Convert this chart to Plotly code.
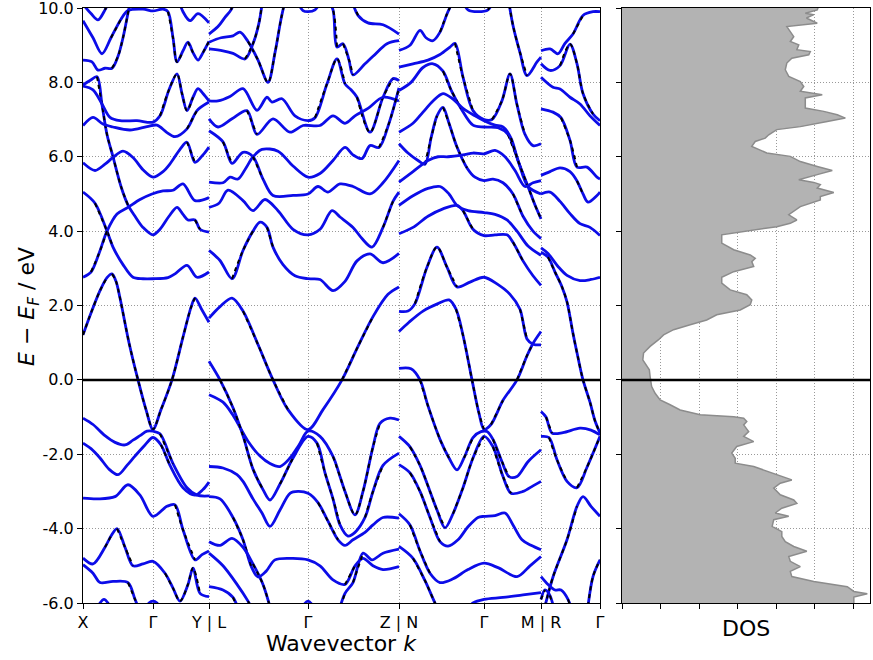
import plotly.graph_objects as go

# ---------------- axis / tick data ----------------
TICK_K = [0, 70, 126, 225, 316, 401, 458, 517]
TICK_LABELS = ["X", "Γ", "Y | L", "Γ", "Z | N", "Γ", "M | R", "Γ"]
E_TICKS = [-6, -4, -2, 0, 2, 4, 6, 8, 10]
E_TICK_TEXT = ["-6.0", "-4.0", "-2.0", "0.0", "2.0", "4.0", "6.0", "8.0", "10.0"]
DOS_TICKS = [0, 1, 2, 3, 4, 5, 6]

# ---------------- band structure (k, E) ----------------
# segment X - Gamma - Y
SEG1_BANDS = [
    [(0, 10.1), (8, 9.85), (15, 9.68), (22, 9.95), (28, 10.3)],
    [(0, 9.66), (10, 9.2), (19, 8.77), (28, 9.2), (38, 9.7), (45, 9.93), (60, 9.97), (70, 9.92), (80, 9.97),
     (85, 9.9), (90, 9.2), (94, 8.55), (100, 8.85), (105, 9.08), (110, 8.8), (115, 8.6), (120, 8.8), (126, 9.1)],
    [(95, 10.3), (100, 9.9), (107, 9.66), (115, 9.85), (126, 9.6)],
    [(0, 8.6), (9, 8.55), (15, 8.33), (22, 8.38), (29, 8.38), (35, 8.7), (40, 9.2), (46, 10.0), (50, 10.5)],
    [(0, 7.93), (7, 8.05), (14, 8.15), (19, 7.4), (24, 6.6), (30, 6.0), (38, 5.2), (45, 4.7), (52, 4.4), (60, 4.1),
     (70, 3.9), (77, 4.05), (86, 4.4), (94, 4.64), (100, 4.45), (105, 4.3), (112, 4.3), (117, 4.05), (126, 3.97)],
    [(0, 7.9), (10, 7.8), (19, 7.42), (27, 7.06), (37, 6.97), (54, 6.97), (70, 6.93), (77, 7.1), (86, 7.8),
     (94, 8.23), (99, 7.7), (104, 7.24), (110, 7.6), (115, 7.83), (120, 7.7), (126, 7.5)],
    [(0, 6.84), (10, 7.06), (20, 6.88), (30, 6.8), (47, 6.72), (64, 6.81), (74, 6.85), (84, 6.65), (92, 6.54),
     (104, 6.75), (114, 7.24), (126, 7.47)],
    [(0, 5.84), (12, 5.63), (22, 5.8), (30, 5.98), (40, 6.15), (50, 5.98), (60, 5.65), (70, 5.45), (80, 5.6),
     (87, 5.81), (97, 6.2), (104, 6.39), (112, 5.85), (120, 6.05), (126, 6.26)],
    [(0, 5.05), (12, 4.75), (24, 4.0), (30, 3.57), (40, 3.1), (50, 2.76), (60, 2.72), (70, 2.72), (85, 2.75),
     (92, 2.85), (104, 3.08), (114, 2.76), (126, 2.9)],
    [(0, 2.76), (8, 2.9), (16, 3.4), (24, 4.0), (34, 4.46), (45, 4.64), (57, 4.85), (69, 5.0), (80, 5.08),
     (90, 5.1), (100, 5.27), (112, 4.82), (126, 4.9)],
    [(0, 1.21), (8, 1.8), (17, 2.4), (24, 2.75), (29, 2.85), (33, 2.65), (37, 2.2), (46, 1.0), (55, 0.0),
     (63, -0.8), (70, -1.33), (78, -0.8), (89, 0.0), (100, 1.15), (108, 1.95), (112, 2.2), (119, 1.88), (126, 1.55)],
    [(0, -1.03), (10, -1.2), (22, -1.5), (32, -1.68), (42, -1.75), (50, -1.62), (57, -1.5), (64, -1.38),
     (70, -1.38), (77, -1.45), (90, -2.25), (104, -2.9), (114, -3.1), (126, -3.12)],
    [(0, -1.7), (8, -1.85), (17, -2.1), (26, -2.4), (35, -2.55), (44, -2.3), (52, -2.05), (62, -1.75),
     (70, -1.55), (78, -1.75), (87, -2.3), (100, -2.9), (112, -3.1), (120, -2.95), (126, -2.75)],
    [(0, -3.18), (15, -3.2), (32, -3.14), (45, -2.82), (57, -3.1), (70, -3.67), (84, -3.4), (92, -3.36),
     (100, -4.03), (112, -4.84), (119, -4.7), (126, -4.6)],
    [(0, -4.79), (10, -4.95), (22, -4.5), (28, -4.2), (34, -4.0), (42, -4.5), (50, -5.0), (60, -4.95),
     (70, -4.88), (82, -5.2), (90, -5.6), (97, -5.95), (105, -5.5), (110, -5.06), (117, -5.74), (126, -5.83)],
    [(0, -4.97), (10, -5.2), (17, -5.45), (30, -5.42), (45, -5.45), (52, -5.9), (58, -6.3)],
    [(12, -6.3), (17, -6.0), (21, -5.9), (25, -6.0), (30, -6.3)],
    [(60, -6.3), (66, -6.0), (70, -5.95), (74, -6.0), (80, -6.3)],
]

# segment L - Gamma - Z
SEG2_BANDS = [
    [(126, 9.3), (135, 9.5), (142, 9.75), (148, 9.95), (153, 10.3)],
    [(126, 9.08), (138, 9.2), (150, 9.25), (157, 9.35), (165, 9.1), (175, 8.6), (185, 8.0), (192, 8.8),
     (198, 9.7), (203, 10.3)],
    [(126, 8.9), (140, 8.85), (150, 8.78), (162, 8.63), (170, 9.04), (176, 9.6), (180, 10.3)],
    [(212, 10.3), (220, 9.93), (225, 9.9), (232, 9.95), (240, 10.3)],
    [(243, 10.3), (250, 9.95), (254, 8.95), (260, 9.04), (266, 8.6), (270, 8.2), (282, 8.5), (290, 8.7),
     (304, 9.04), (316, 9.12)],
    [(268, 10.3), (275, 9.8), (285, 9.6), (300, 9.55), (316, 9.3)],
    [(126, 7.5), (135, 7.5), (147, 7.62), (160, 7.83), (174, 7.25), (184, 7.6), (189, 7.47), (199, 7.56),
     (212, 7.1), (225, 6.97), (232, 7.05), (244, 7.96), (254, 8.63), (262, 7.96), (268, 7.8), (274, 7.6),
     (287, 6.66), (300, 7.6), (310, 8.1), (316, 8.05)],
    [(126, 7.02), (135, 6.8), (149, 7.02), (164, 7.24), (174, 6.6), (190, 7.02), (207, 6.66), (220, 6.84),
     (237, 6.84), (250, 7.1), (262, 6.9), (272, 7.1), (285, 7.3), (300, 7.6), (316, 7.5)],
    [(126, 5.32), (140, 5.3), (147, 5.45), (155, 5.4), (163, 5.7), (170, 6.0), (179, 6.2), (195, 6.15),
     (210, 5.75), (225, 5.45), (237, 5.55), (250, 5.9), (262, 6.25), (270, 6.05), (279, 5.95), (287, 6.3),
     (296, 6.25), (306, 6.9), (316, 7.85)],
    [(126, 6.7), (140, 6.4), (149, 5.82), (160, 6.12), (170, 6.0), (180, 5.4), (190, 4.96), (210, 4.96),
     (225, 5.0), (235, 5.2), (245, 5.05), (257, 5.27), (270, 5.2), (287, 5.0), (300, 5.3), (316, 5.9)],
    [(126, 4.64), (136, 4.75), (145, 5.1), (160, 4.82), (170, 4.55), (182, 4.85), (195, 4.55), (210, 4.05),
     (225, 3.9), (237, 4.05), (249, 4.55), (257, 4.38), (270, 4.1), (279, 3.8), (289, 3.57), (300, 4.1),
     (310, 4.8), (316, 5.05)],
    [(126, 3.48), (137, 3.21), (149, 2.72), (160, 3.48), (170, 4.0), (177, 4.24), (184, 4.1), (190, 3.57),
     (200, 3.1), (212, 2.8), (225, 2.72), (237, 2.7), (250, 2.4), (262, 2.65), (274, 3.2), (287, 3.39),
     (300, 3.15), (316, 3.4)],
    [(126, 1.66), (137, 1.97), (149, 2.2), (160, 1.85), (175, 0.95), (190, 0.0), (205, -0.8), (225, -1.34),
     (240, -0.8), (259, 0.0), (275, 0.9), (290, 1.7), (305, 2.3), (316, 2.5)],
    [(126, -0.4), (140, -0.6), (150, -0.95), (165, -1.65), (177, -2.05), (187, -2.25), (197, -2.33),
     (207, -2.1), (216, -1.75), (225, -1.38), (237, -1.52), (250, -2.06), (257, -2.6), (262, -3.0),
     (272, -3.63), (280, -3.0), (290, -1.8), (297, -1.17), (307, -1.03), (316, -1.08)],
    [(126, 0.5), (137, 0.0), (150, -0.75), (160, -1.5), (170, -2.4), (180, -2.95), (187, -3.23), (197, -2.8),
     (210, -2.1), (225, -1.52), (234, -1.7), (242, -2.5), (250, -3.2), (257, -3.9), (265, -4.2), (272, -4.1),
     (282, -3.7), (290, -3.0), (300, -2.3), (316, -1.97)],
    [(126, -2.33), (140, -2.37), (154, -2.55), (160, -2.73), (170, -3.2), (179, -3.58), (187, -3.94),
     (197, -3.5), (207, -3.05), (215, -3.0), (225, -3.05), (235, -3.3), (245, -3.8), (255, -4.3),
     (262, -4.45), (270, -4.3), (282, -4.1), (290, -3.9), (300, -3.7), (316, -3.72)],
    [(126, -3.14), (137, -3.2), (150, -3.7), (160, -4.3), (168, -5.0), (175, -5.3), (183, -5.15), (192, -4.84),
     (210, -4.8), (225, -4.84), (237, -5.0), (250, -5.38), (262, -5.5), (272, -5.0), (280, -4.8), (290, -5.0),
     (300, -5.1), (316, -5.02)],
    [(126, -4.35), (137, -4.45), (149, -4.26), (160, -4.5), (170, -4.95), (180, -5.5), (188, -6.2)],
    [(126, -4.66), (140, -5.0), (154, -5.5), (165, -5.95), (172, -6.3)],
    [(126, -5.56), (140, -5.65), (150, -5.85), (157, -6.3)],
    [(215, -6.3), (225, -5.95), (235, -6.3)],
    [(255, -6.3), (262, -5.74), (270, -5.45), (280, -4.66), (289, -4.84), (300, -4.66), (316, -4.55)],
]

# segment N - Gamma - M
SEG3_BANDS = [
    [(316, 8.86), (327, 9.0), (337, 9.4), (343, 9.2), (350, 9.12), (357, 9.35), (364, 9.84), (372, 10.3)],
    [(316, 8.41), (330, 8.5), (345, 8.6), (357, 8.75), (367, 8.95), (372, 9.05), (380, 8.14), (390, 7.24),
     (401, 7.0), (409, 7.0), (419, 7.51), (427, 8.23), (434, 7.4), (442, 6.6), (450, 6.3), (458, 6.35)],
    [(316, 7.78), (328, 8.0), (340, 8.4), (350, 8.5), (360, 8.3), (368, 7.8), (378, 7.3), (390, 6.85),
     (401, 6.8), (415, 6.78), (425, 6.6), (435, 5.9), (445, 5.2), (458, 5.0)],
    [(316, 6.66), (330, 6.9), (340, 7.2), (350, 7.5), (360, 7.7), (370, 7.55), (380, 7.3), (392, 7.1),
     (401, 6.97), (412, 6.85), (420, 6.8), (428, 6.5), (435, 5.9), (445, 5.2), (452, 4.7), (458, 4.33)],
    [(316, 6.35), (325, 6.1), (335, 5.9), (342, 5.8), (348, 6.5), (354, 7.1), (360, 7.33), (366, 6.9),
     (374, 6.26), (384, 5.7), (392, 5.45), (401, 5.36), (410, 5.4), (420, 5.3), (430, 5.0), (440, 4.4),
     (450, 4.0), (458, 3.8)],
    [(316, 5.32), (330, 5.6), (345, 5.9), (355, 6.0), (365, 6.0), (380, 6.05), (390, 6.1), (401, 6.08),
     (412, 6.17), (422, 6.0), (432, 5.63), (442, 5.2), (450, 5.3), (458, 5.36)],
    [(316, 4.69), (330, 4.95), (345, 5.15), (357, 5.2), (366, 5.0), (374, 4.69), (385, 4.55), (401, 4.5),
     (412, 4.45), (424, 4.3), (434, 4.0), (445, 3.6), (458, 3.35)],
    [(316, 3.93), (330, 4.1), (345, 4.4), (360, 4.6), (374, 4.69), (380, 4.55), (390, 4.05), (401, 3.88),
     (412, 3.9), (424, 3.9), (430, 3.7), (440, 3.2), (450, 2.8), (458, 2.54)],
    [(425, 10.3), (430, 9.53), (437, 8.8), (444, 8.18), (454, 8.55), (458, 8.68)],
    [(378, 10.3), (385, 9.95), (395, 9.9), (405, 9.95), (412, 10.3)],
    [(316, 1.84), (325, 1.85), (332, 2.05), (344, 3.03), (354, 3.57), (364, 3.03), (374, 2.5), (387, 2.63),
     (401, 2.76), (414, 2.58), (427, 2.3), (437, 1.9), (444, 1.1), (450, 0.96), (458, 0.94)],
    [(316, 1.3), (326, 1.55), (340, 1.85), (355, 2.05), (366, 2.15), (373, 1.9), (380, 1.2), (389, 0.0),
     (396, -0.9), (401, -1.33), (408, -1.2), (420, -0.55), (434, 0.0), (444, 0.65), (450, 0.98), (458, 1.3)],
    [(316, 0.31), (328, 0.3), (337, 0.0), (345, -0.7), (357, -1.6), (366, -2.1), (374, -2.42), (381, -2.1),
     (390, -1.55), (398, -1.39), (404, -1.39), (410, -1.6), (419, -2.2), (426, -2.6), (434, -2.6),
     (445, -2.2), (458, -1.88)],
    [(316, -1.52), (327, -1.8), (337, -2.3), (347, -3.0), (354, -3.5), (362, -3.98), (370, -3.6), (380, -2.9),
     (390, -2.1), (401, -1.52), (410, -1.8), (420, -2.6), (428, -3.05), (440, -3.0), (450, -2.85), (458, -2.73)],
    [(316, -2.28), (327, -2.5), (337, -3.0), (347, -3.7), (357, -4.35), (365, -4.47), (375, -4.3), (385, -3.95),
     (395, -3.7), (401, -3.67), (412, -3.65), (422, -3.58), (430, -3.9), (439, -4.3), (448, -4.45), (458, -4.57)],
    [(316, -3.6), (327, -3.9), (337, -4.6), (347, -5.2), (357, -5.45), (370, -5.35), (385, -5.1), (401, -4.93),
     (415, -5.05), (434, -5.29), (447, -5.0), (458, -4.75)],
    [(316, -4.48), (330, -4.8), (342, -5.4), (352, -6.0), (358, -6.3)],
    [(380, -6.3), (390, -6.0), (401, -5.9), (420, -5.85), (440, -5.78), (458, -5.72)],
]

# segment R - Gamma
SEG4_BANDS = [
    [(458, 8.85), (467, 8.9), (475, 8.77), (482, 9.05), (490, 9.3), (500, 9.8), (510, 9.9), (517, 9.9)],
    [(458, 8.5), (467, 8.32), (477, 8.45), (487, 9.03), (494, 8.5), (500, 7.7), (510, 7.15), (517, 6.97)],
    [(458, 8.14), (470, 7.87), (477, 7.82), (487, 7.6), (497, 7.42), (507, 7.1), (517, 6.84)],
    [(458, 7.29), (470, 7.2), (478, 7.05), (487, 6.44), (494, 5.72), (504, 5.72), (514, 5.45), (517, 5.4)],
    [(458, 5.5), (467, 5.6), (477, 5.7), (487, 5.6), (494, 5.35), (500, 5.0), (505, 4.78), (514, 4.96), (517, 5.05)],
    [(458, 5.0), (467, 5.05), (477, 4.8), (487, 4.47), (497, 4.2), (507, 4.1), (517, 3.88)],
    [(458, 3.55), (465, 3.4), (475, 3.05), (484, 2.81), (497, 2.67), (508, 2.7), (517, 2.76)],
    [(458, 3.43), (465, 3.3), (472, 2.9), (479, 2.5), (484, 2.1), (490, 1.25), (495, 0.6), (500, 0.0),
     (507, -0.6), (512, -1.1), (517, -1.43)],
    [(458, -0.85), (463, -1.0), (469, -1.43), (480, -1.42), (497, -1.3), (508, -1.35), (517, -1.48)],
    [(458, -1.52), (466, -1.55), (474, -2.15), (484, -2.73), (494, -2.9), (504, -2.35), (517, -1.52)],
    [(460, -6.3), (470, -5.3), (484, -4.3), (494, -3.4), (500, -3.14), (508, -3.4), (517, -3.67)],
    [(504, -6.3), (510, -5.29), (517, -4.84)],
    [(458, -5.29), (465, -5.5), (472, -5.65), (478, -5.65), (485, -5.9), (490, -6.3)],
    [(458, -5.9), (462, -5.65), (467, -5.8), (472, -6.3)],
]

# ---------------- density of states (E, DOS) ----------------
DOS_PROFILE = [
    (10.3, 5.2), (9.95, 5.07), (9.86, 4.76), (9.82, 4.98), (9.73, 4.79), (9.59, 5.07), (9.50, 4.28),
    (9.37, 4.37), (9.23, 4.46), (9.10, 4.37), (9.01, 4.59), (8.88, 4.54), (8.83, 4.89), (8.74, 4.85),
    (8.65, 4.41), (8.52, 4.28), (8.34, 4.24), (8.16, 4.33), (8.02, 4.63), (7.89, 4.72), (7.76, 4.63),
    (7.67, 5.2), (7.58, 4.76), (7.31, 4.76), (7.22, 5.24), (7.13, 5.59), (7.04, 5.8), (6.95, 5.33),
    (6.81, 4.63), (6.73, 4.02), (6.59, 3.81), (6.50, 3.72), (6.41, 3.46), (6.28, 3.37), (6.19, 3.59),
    (6.10, 3.76), (6.01, 4.37), (5.87, 4.63), (5.74, 5.07), (5.63, 5.46), (5.52, 5.07), (5.38, 4.59),
    (5.31, 4.98), (5.25, 5.15), (5.16, 5.07), (5.04, 5.5), (4.93, 5.15), (4.84, 5.15), (4.66, 4.63),
    (4.44, 4.33), (4.30, 4.54), (4.21, 4.37), (4.12, 4.02), (3.97, 2.98), (3.90, 2.59), (3.68, 2.59),
    (3.50, 2.9), (3.36, 3.33), (3.27, 3.46), (3.18, 3.37), (3.05, 3.42), (2.91, 2.9), (2.76, 2.59),
    (2.60, 2.59), (2.42, 2.81), (2.29, 3.24), (2.15, 3.37), (2.02, 3.33), (1.88, 3.07), (1.75, 2.46),
    (1.61, 2.2), (1.48, 1.77), (1.35, 1.34), (1.21, 1.08), (1.08, 0.95), (0.90, 0.73), (0.72, 0.56),
    (0.54, 0.54), (0.40, 0.64), (0.27, 0.71), (0.09, 0.73), (-0.04, 0.75), (-0.18, 0.77), (-0.36, 0.86),
    (-0.54, 0.99), (-0.67, 1.25), (-0.81, 1.51), (-0.94, 2.03), (-0.99, 2.9), (-1.03, 3.16), (-1.12, 3.24),
    (-1.21, 3.16), (-1.39, 3.29), (-1.52, 3.16), (-1.66, 3.42), (-1.79, 2.98), (-1.97, 2.85), (-2.11, 2.94),
    (-2.24, 2.94), (-2.33, 3.42), (-2.46, 3.76), (-2.60, 4.15), (-2.69, 4.41), (-2.78, 4.11), (-2.91, 3.94),
    (-3.09, 4.11), (-3.23, 4.46), (-3.32, 4.54), (-3.45, 4.15), (-3.58, 3.98), (-3.67, 4.33), (-3.76, 3.94),
    (-3.94, 3.9), (-4.08, 4.15), (-4.21, 4.15), (-4.35, 4.24), (-4.48, 4.46), (-4.61, 4.8), (-4.75, 4.33),
    (-4.88, 4.37), (-5.02, 4.63), (-5.15, 4.37), (-5.29, 4.41), (-5.42, 4.98), (-5.56, 5.85), (-5.69, 6.02),
    (-5.75, 6.37), (-5.84, 6.02), (-6.0, 6.02), (-6.3, 6.02),
]
DOS_E = [p[0] for p in DOS_PROFILE]
DOS_D = [p[1] for p in DOS_PROFILE]

# ---------------- figure ----------------
W, H = 873, 660
BLUE = "#0c0ce8"
FONT = "DejaVu Sans"
PX_PER_EV = 595.0 / 16.0
STEEP = 1.8

fig = go.Figure()

for seg in (SEG1_BANDS, SEG2_BANDS, SEG3_BANDS, SEG4_BANDS):
    for band in seg:
        ks = [p[0] for p in band]
        es = [p[1] for p in band]
        fig.add_trace(go.Scatter(x=ks, y=es, mode="lines", xaxis="x", yaxis="y",
                                 line=dict(color=BLUE, width=2.8, shape="spline", smoothing=0.9),
                                 hoverinfo="skip", showlegend=False))
        # black dashed overlay on steep stretches
        flags = []
        for i in range(len(band) - 1):
            dk = band[i + 1][0] - band[i][0]
            de = band[i + 1][1] - band[i][1]
            flags.append(abs(de * PX_PER_EV / dk) > STEEP)
        i = 0
        while i < len(flags):
            if flags[i]:
                j = i
                while j + 1 < len(flags) and flags[j + 1]:
                    j += 1
                sub = band[i:j + 2]
                fig.add_trace(go.Scatter(x=[p[0] for p in sub], y=[p[1] for p in sub], mode="lines",
                                         xaxis="x", yaxis="y",
                                         line=dict(color="black", width=2, dash="4px,4px",
                                                   shape="spline", smoothing=0.9),
                                         hoverinfo="skip", showlegend=False))
                i = j + 1
            else:
                i += 1

fig.add_trace(go.Scatter(x=DOS_D, y=DOS_E, mode="lines", xaxis="x2", yaxis="y2",
                         fill="tozerox", fillcolor="#b3b3b3",
                         line=dict(color="#8c8c8c", width=1.5),
                         hoverinfo="skip", showlegend=False))

x1 = [83 / W, 600 / W]
x2 = [622 / W, 870 / W]
yd = [1 - 603 / H, 1 - 8 / H]

grid = dict(showgrid=True, gridcolor="#999999", gridwidth=1, griddash="1px,2px", zeroline=False,
            showline=True, linecolor="black", linewidth=1, mirror=True,
            ticks="outside", ticklen=5, tickcolor="black", tickwidth=1, automargin=False,
            ticklabeloverflow="allow",
            tickfont=dict(family=FONT, size=16, color="black"))

fig.update_layout(
    width=W, height=H, autosize=False,
    margin=dict(l=0, r=0, t=0, b=0, pad=0, autoexpand=False),
    paper_bgcolor="white", plot_bgcolor="white",
    font=dict(family=FONT, color="black"),
    xaxis=dict(domain=x1, range=[TICK_K[0], TICK_K[-1]], tickmode="array", tickvals=TICK_K,
               ticktext=TICK_LABELS, anchor="y", **grid),
    yaxis=dict(domain=yd, range=[-6, 10], tickmode="array", tickvals=E_TICKS, ticktext=E_TICK_TEXT,
               anchor="x", **grid),
    xaxis2=dict(domain=x2, range=[0, 6.44], tickmode="array", tickvals=DOS_TICKS, showticklabels=False,
                anchor="y2", **grid),
    yaxis2=dict(domain=yd, range=[-6, 10], tickmode="array", tickvals=E_TICKS, showticklabels=False,
                anchor="x2", **grid),
    shapes=[
        dict(type="line", xref="x domain", yref="y", x0=0, x1=1, y0=0, y1=0,
             line=dict(color="black", width=2.5), layer="above"),
        dict(type="line", xref="x2 domain", yref="y2", x0=0, x1=1, y0=0, y1=0,
             line=dict(color="black", width=2.5), layer="above"),
    ],
    annotations=[
        dict(text="Wavevector <i>k</i>", xref="paper", yref="paper", x=(x1[0] + x1[1]) / 2,
             y=1 - 643 / H, xanchor="center", yanchor="middle", showarrow=False,
             font=dict(family=FONT, size=22, color="black")),
        dict(text="DOS", xref="paper", yref="paper", x=(x2[0] + x2[1]) / 2,
             y=1 - 628 / H, xanchor="center", yanchor="middle", showarrow=False,
             font=dict(family=FONT, size=22, color="black")),
        dict(text="<i>E</i> − <i>E</i><sub><i>F</i></sub> / eV", xref="paper", yref="paper", x=29 / W,
             y=1 - 307 / H, xanchor="center", yanchor="middle", textangle=-90, showarrow=False,
             font=dict(family=FONT, size=22, color="black")),
    ],
)

fig.write_html("out.html")
